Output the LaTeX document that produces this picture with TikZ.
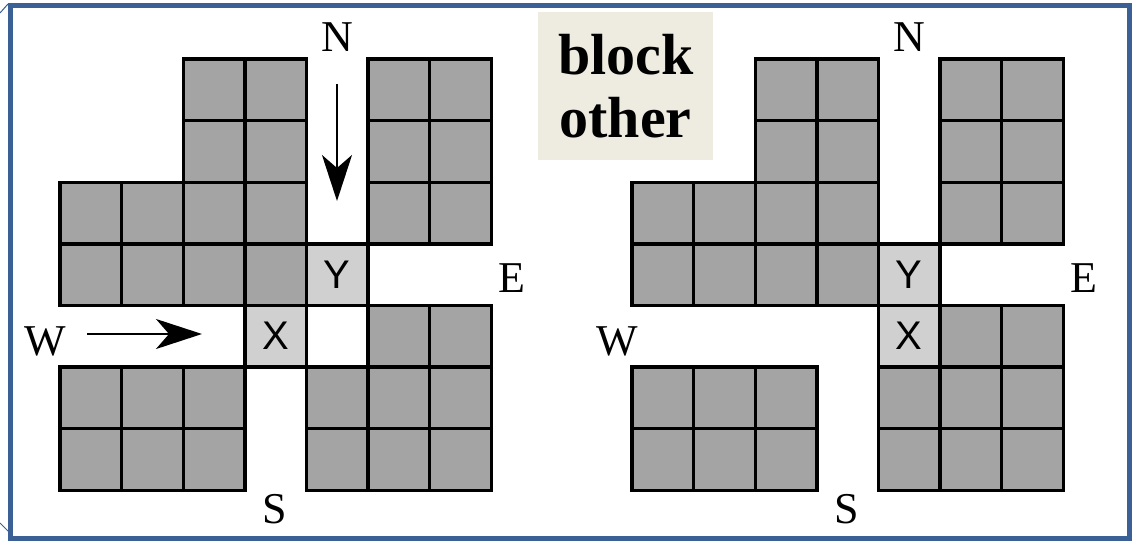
\documentclass[tikz,border=0pt]{standalone}
\usepackage{fontspec}
\setmainfont{Liberation Serif}
\setsansfont{Liberation Sans}
\usetikzlibrary{arrows.meta}

\definecolor{framecol}{HTML}{3A6095}
\definecolor{blockgray}{HTML}{A4A4A4}
\definecolor{cellgray}{HTML}{D0D0D0}
\definecolor{notecol}{HTML}{EEEBE0}

\tikzset{
  darkcell/.style={fill=blockgray,draw=black,line width=3.4pt},
  lightcell/.style={fill=cellgray,draw=black,line width=3.4pt,minimum size=61.6pt,inner sep=0pt,
    font=\sffamily\fontsize{40}{40}\selectfont},
  compass/.style={font=\fontsize{44}{44}\selectfont,inner sep=0pt},
  flow/.style={-{Stealth[length=46pt,width=30pt,inset=13pt]},line width=2.2pt},
}

\begin{document}
\begin{tikzpicture}[x=1pt,y=-1pt]
  \useasboundingbox (0,0) rectangle (1136,541);
  \draw[framecol,line width=5pt] (10,5.5) rectangle (1129,538.5);
  \draw[framecol,line width=1pt] (0,13) -- (8,4);
  \draw[framecol,line width=1pt] (0,523) -- (10,533);
  \node[fill=notecol,minimum width=175pt,minimum height=148pt,anchor=north west,inner sep=0pt,
    align=center,font=\bfseries\fontsize{58}{63}\selectfont] (note) at (538,12) {block\\other};
  % the two junctions: same blocks, X moved one cell east
  \foreach \gx/\g/\xc in {60/l/3.5,632/r/4.5}{
    \begin{scope}[shift={(\gx,59)},x=61.6pt,y=-61.6pt]
      \foreach \c/\r in {2/0,3/0,5/0,6/0,2/1,3/1,5/1,6/1,0/2,1/2,2/2,3/2,5/2,6/2,0/3,1/3,2/3,3/3,
                         5/4,6/4,0/5,1/5,2/5,4/5,5/5,6/5,0/6,1/6,2/6,4/6,5/6,6/6}
        \draw[darkcell] (\c,\r) rectangle +(1,1);
      \node[lightcell] (y\g) at (4.5,3.5) {Y};
      \node[lightcell] (x\g) at (\xc,4.5) {X};
      \node[compass] (n\g) at (4.5,-0.36) {N};
      \node[compass] (e\g) at (7.33,3.56) {E};
      \node[compass] (w\g) at (-0.24,4.58) {W};
      \node[compass] (s\g) at (3.49,7.3) {S};
    \end{scope}
  }
  \coordinate (ntail) at (337,84);
  \coordinate (nhead) at (337,201);
  \coordinate (wtail) at (87,334);
  \coordinate (whead) at (202,334);
  \draw[flow] (ntail) -- (nhead);
  \draw[flow] (wtail) -- (whead);
\end{tikzpicture}
\end{document}
